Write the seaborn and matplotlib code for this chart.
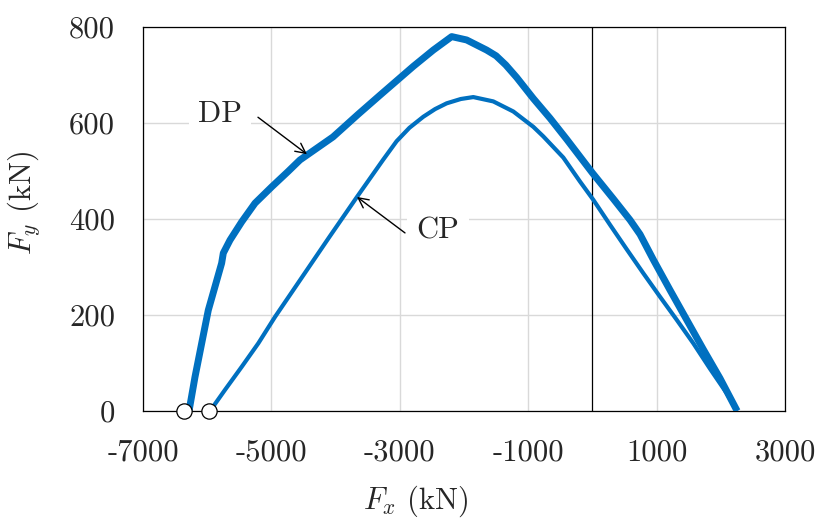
import matplotlib
matplotlib.use("Agg")
import matplotlib.pyplot as plt
import seaborn as sns
import pandas as pd

# Dados (kN)
dp_fx = [-6283, -6190, -6086, -5983, -5879, -5775, -5749, -5645, -5463, -5255, -4995, -4740,
         -4555, -4040, -3650, -3308, -2790, -2478, -2192, -1959, -1648, -1500, -1350, -1180,
         -920, -660, -400, 0, 326, 586, 742, 950, 1209, 1469, 1729, 1988, 2255]
dp_fy = [0, 71, 141, 210, 259, 308, 329, 356, 394, 433, 467, 499,
         523, 571, 618, 658, 718, 752, 780, 773, 752, 740, 721, 695,
         651, 610, 566, 496, 442, 398, 368, 315, 252, 190, 128, 68, 0]

cp_fx = [-5956, -5723, -5463, -5204, -4944, -4659, -4100, -3667, -3262, -3050, -2850, -2634,
         -2450, -2270, -2050, -1855, -1544, -1232, -920, -764, -453, -193, 14, 274, 534, 793,
         1053, 1313, 1572, 1832, 2092, 2255]
cp_fy = [0, 44, 92, 141, 196, 252, 362, 446, 523, 562, 590, 613,
         629, 641, 650, 654, 645, 624, 592, 572, 528, 478, 440, 388, 337, 287,
         238, 190, 141, 88, 37, 0]

marcadores_fx = [-6360, -5975]
marcadores_fy = [0, 0]

xticks = [-7000, -5000, -3000, -1000, 1000, 3000]
yticks = [0, 200, 400, 600, 800]

df_dp = pd.DataFrame({"Fx": dp_fx, "Fy": dp_fy})
df_cp = pd.DataFrame({"Fx": cp_fx, "Fy": cp_fy})

sns.set_style("white")
plt.rcParams["font.family"] = ["cmr10", "DejaVu Serif"]
plt.rcParams["mathtext.fontset"] = "cm"
plt.rcParams["axes.unicode_minus"] = False
plt.rcParams["axes.formatter.use_mathtext"] = True

azul = "#0070C0"

fig = plt.figure(figsize=(8.21, 5.23), dpi=100)
ax = fig.add_axes([143 / 821, 1 - 411 / 523, 642 / 821, 384 / 523])

ax.axvline(0, color="black", lw=0.9, zorder=1)

sns.lineplot(data=df_dp, x="Fx", y="Fy", sort=False, color=azul, lw=5.0, ax=ax,
             solid_joinstyle="round", solid_capstyle="butt", zorder=3)
sns.lineplot(data=df_cp, x="Fx", y="Fy", sort=False, color=azul, lw=3.0, ax=ax,
             solid_joinstyle="round", solid_capstyle="butt", zorder=3)

ax.plot(marcadores_fx, marcadores_fy, "o", ms=11, mfc="white", mec="black", mew=0.9,
        clip_on=False, zorder=5)

ax.set_xlim(-7000, 3000)
ax.set_ylim(0, 800)
ax.set_xticks(xticks)
ax.set_xticklabels([str(t) for t in xticks])
ax.set_yticks(yticks)
ax.set_yticklabels([str(t) for t in yticks])
ax.tick_params(axis="both", length=0, pad=20, labelsize=22)

ax.grid(True, color="#d9d9d9", lw=1.0, zorder=0)
ax.set_axisbelow(True)
for s in ax.spines.values():
    s.set_color("black")
    s.set_linewidth(0.9)

ax.set_xlabel(r"$F_x$ (kN)", fontsize=22)
ax.set_ylabel(r"$F_y$ (kN)", fontsize=22)
ax.xaxis.set_label_coords(0.425, -0.19)
ax.yaxis.set_label_coords(-0.158, 0.542)

# Rótulos com setas
caixa = dict(boxstyle="square,pad=0.3", fc="white", ec="none")
ax.text(-5801, 619, "DP", fontsize=22, ha="center", va="center", bbox=caixa, zorder=4)
ax.annotate("", xy=(-4446, 535), xytext=(-5209, 612),
            arrowprops=dict(arrowstyle="->", color="black", lw=1.0, shrinkA=0, shrinkB=0,
                            mutation_scale=18), zorder=4)
ax.text(-2405, 375, "CP", fontsize=22, ha="center", va="center", bbox=caixa, zorder=4)
ax.annotate("", xy=(-3667, 446), xytext=(-2919, 371),
            arrowprops=dict(arrowstyle="->", color="black", lw=1.0, shrinkA=0, shrinkB=0,
                            mutation_scale=18), zorder=4)

plt.savefig("out.png", dpi=100)
